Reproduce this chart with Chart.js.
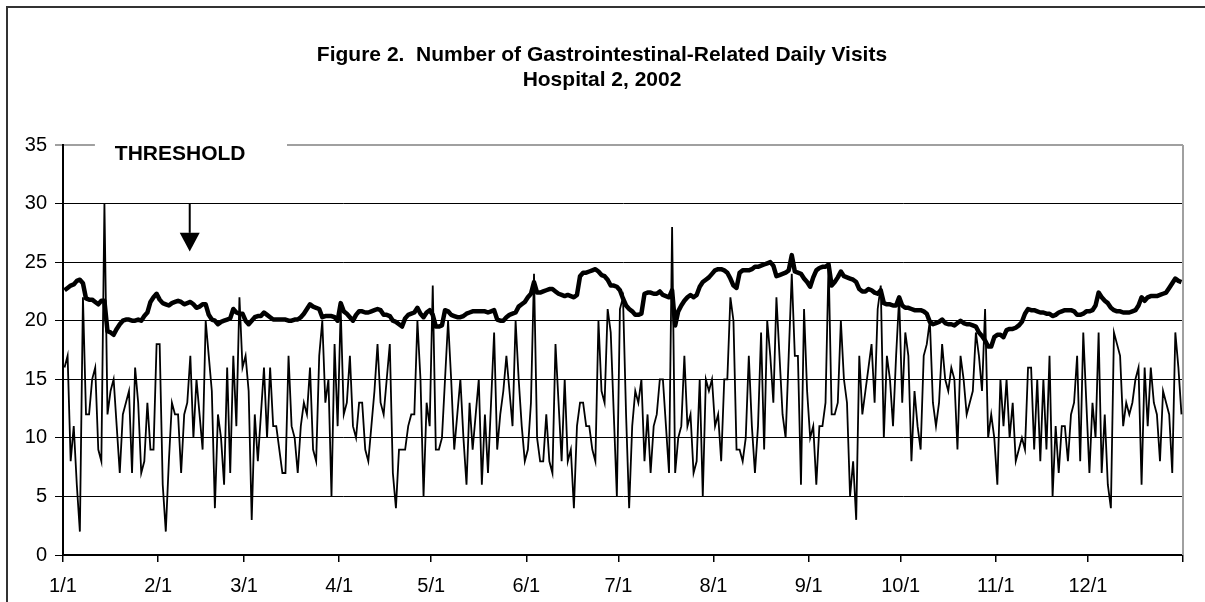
<!DOCTYPE html>
<html>
<head>
<meta charset="utf-8">
<script src="https://cdn.jsdelivr.net/npm/chart.js@4.4.1/dist/chart.umd.min.js"></script>
<style>
  html, body { margin: 0; padding: 0; background: #fff; }
  canvas { display: block; }
</style>
</head>
<body>
<canvas id="myChart" width="1205" height="602"></canvas>
<script>
// etiquetas del eje x (primer dia de cada mes) y su posicion en dias
const monthLabels = ['1/1', '2/1', '3/1', '4/1', '5/1', '6/1', '7/1', '8/1', '9/1', '10/1', '11/1', '12/1'];
const monthStarts = [0, 31, 59, 90, 120, 151, 181, 212, 243, 273, 304, 334];
const yTicks = [0, 5, 10, 15, 20, 25, 30, 35];

// visitas diarias, 1/1 a 12/31
const dailyVisits = [
  16, 17, 8, 11, 6, 2, 22, 12, 12, 15, 16, 9, 8, 30, 12, 14, 15, 11, 7, 12, 13, 14, 7, 16, 13, 7, 8, 13, 9, 9, 18,
  18, 6, 2, 8, 13, 12, 12, 7, 12, 13, 17, 10, 15, 12, 9, 20, 17, 14, 4, 12, 10, 6, 16, 7, 17, 11, 22, 16,
  17, 14, 3, 12, 8, 12, 16, 10, 16, 11, 11, 9, 7, 7, 17, 11, 10, 7, 11, 13, 12, 16, 9, 8, 17, 20, 13, 15, 5, 18, 11,
  21, 12, 13, 17, 11, 10, 13, 13, 9, 8, 11, 14, 18, 13, 12, 15, 18, 7, 4, 9, 9, 9, 11, 12, 12, 20, 15, 5, 13, 11,
  23, 9, 9, 10, 15, 20, 15, 9, 12, 15, 10, 6, 13, 9, 12, 15, 6, 12, 7, 13, 19, 9, 12, 14, 17, 14, 11, 20, 15, 11, 8,
  9, 13, 24, 10, 8, 8, 12, 8, 7, 18, 13, 8, 15, 8, 9, 4, 11, 13, 13, 11, 11, 9, 8, 20, 14, 13, 21, 19, 12, 5,
  21, 22, 12, 4, 11, 14, 13, 15, 8, 12, 7, 11, 12, 15, 15, 11, 7, 28, 7, 10, 11, 17, 11, 12, 7, 8, 15, 5, 15, 14, 15,
  11, 12, 8, 15, 15, 22, 20, 9, 9, 8, 10, 17, 11, 7, 11, 19, 9, 20, 17, 13, 22, 17, 12, 10, 17, 24, 17, 17, 6, 21, 14,
  10, 11, 6, 11, 11, 13, 25, 12, 12, 13, 20, 15, 13, 5, 8, 3, 17, 12, 14, 16, 18, 13, 21, 23, 10, 17, 15, 11, 17, 22,
  13, 19, 17, 8, 14, 11, 9, 17, 18, 20, 13, 11, 13, 18, 15, 14, 16, 15, 9, 17, 15, 12, 13, 14, 19, 17, 14, 21, 10, 12,
  10, 6, 15, 11, 15, 10, 13, 8, 9, 10, 9, 16, 16, 9, 15, 8, 15, 9, 17, 5, 11, 7, 11, 11, 8, 12, 13, 17, 8, 19, 13,
  7, 13, 10, 19, 7, 12, 6, 4, 19, 18, 17, 11, 13, 12, 13, 15, 16, 6, 16, 11, 16, 13, 12, 8, 14, 13, 12, 7, 19, 16, 12
];

// umbral (threshold)
const threshold = [
  22.6, 22.8, 23, 23.1, 23.4, 23.5, 23.2, 21.9, 21.8, 21.8, 21.6, 21.4, 21.7, 21.7, 19.1, 19, 18.8, 19.3, 19.7, 20, 20.1, 20.1, 20, 20, 20.1, 20, 20.4, 20.7, 21.6, 22, 22.3, 21.8, 21.5, 21.4, 21.3, 21.5,
  21.6, 21.7, 21.6, 21.4, 21.5, 21.6, 21.4, 21.1, 21.2, 21.4, 21.4, 20.5, 20.1, 20, 19.7, 19.9, 20, 20.1, 20.2, 21, 20.7, 20.6, 20.6, 20, 19.7, 20, 20.3, 20.4, 20.4, 20.7, 20.5, 20.3, 20.1, 20.1, 20.1, 20.1, 20.1, 20,
  20, 20.1, 20.1, 20.3, 20.6, 21, 21.4, 21.2, 21.1, 21, 20.3, 20.4, 20.4, 20.4, 20.3, 20, 21.5, 20.8, 20.6, 20.3, 20, 20.5, 20.8, 20.8, 20.7, 20.7, 20.8, 20.9, 21, 20.9, 20.5, 20.5, 20.4, 20, 19.9, 19.7, 19.5,
  20.2, 20.5, 20.6, 20.7, 21.1, 20.6, 20.3, 20.7, 20.9, 20.5, 19.5, 19.5, 19.6, 20.9, 20.8, 20.5, 20.4, 20.3, 20.3, 20.4, 20.6, 20.7, 20.8, 20.8, 20.8, 20.8, 20.8, 20.7, 20.8, 20.9, 20.1, 20, 20, 20.3, 20.5, 20.6, 20.7, 21.2,
  21.4, 21.6, 22.0, 22.3, 23.3, 22.4, 22.4, 22.5, 22.6, 22.7, 22.7, 22.5, 22.3, 22.2, 22.1, 22.2, 22.1, 22.0, 22.2, 23.8, 24.1, 24.1, 24.2, 24.3, 24.4, 24.2, 23.9, 23.8, 23.5, 23.0, 23.0, 22.9, 22.6, 21.9, 21.3, 21.0, 20.8,
  20.5, 20.5, 20.6, 22.3, 22.4, 22.4, 22.3, 22.3, 22.5, 22.2, 22.1, 22.0, 22.6, 19.6, 20.8, 21.3, 21.7, 22.0, 22.2, 22.0, 22.2, 22.9, 23.3, 23.5, 23.7, 24.0, 24.3, 24.4, 24.4, 24.3, 24.1, 23.6, 23.0, 22.8, 24.1, 24.3, 24.3, 24.3,
  24.4, 24.6, 24.6, 24.7, 24.8, 24.9, 25.0, 24.7, 23.8, 23.9, 24.0, 24.1, 24.3, 25.6, 24.2, 24.1, 24.0, 23.6, 23.3, 22.9, 23.7, 24.3, 24.5, 24.6, 24.6, 24.8, 23.0, 23.3, 23.7, 24.2, 23.8, 23.7, 23.6, 23.5, 23.3, 22.7, 22.5,
  22.5, 22.7, 22.6, 22.4, 22.3, 22.6, 21.5, 21.4, 21.4, 21.3, 21.3, 22.0, 21.3, 21.1, 21.1, 21.0, 20.9, 20.9, 20.9, 20.8, 20.6, 19.9, 19.7, 19.8, 19.9, 20.1, 19.8, 19.7, 19.7, 19.6, 19.8, 20.0, 19.8, 19.7, 19.7, 19.6, 19.5, 19.0,
  18.7, 18.3, 17.8, 17.8, 18.6, 18.8, 18.8, 18.6, 19.2, 19.3, 19.3, 19.4, 19.6, 19.9, 20.6, 21.0, 20.9, 20.9, 20.8, 20.7, 20.7, 20.6, 20.6, 20.4, 20.5, 20.7, 20.8, 20.9, 20.9, 20.9, 20.8, 20.5, 20.5, 20.6, 20.8, 20.8, 20.9,
  21.3, 22.4, 22.0, 21.7, 21.5, 21.1, 20.9, 20.8, 20.8, 20.7, 20.7, 20.7, 20.8, 20.9, 21.3, 22.0, 21.7, 22.0, 22.1, 22.1, 22.1, 22.2, 22.3, 22.4, 22.8, 23.2, 23.6, 23.4, 23.3
];

const titleLines = ['Figure 2.  Number of Gastrointestinal-Related Daily Visits', 'Hospital 2, 2002'];
const thresholdLabel = 'THRESHOLD';

const fontFamily = '"Liberation Sans", Arial, sans-serif';

// cada punto se centra en su dia
const dailyPoints = dailyVisits.map((v, i) => ({ x: i + 0.5, y: v }));
const thresholdPoints = threshold.map((v, i) => ({ x: i + 0.5, y: v }));

// titulo, recuadro de THRESHOLD, flecha y bordes
const decorations = {
  id: 'decorations',
  beforeDraw(chart) {
    const ctx = chart.ctx;
    ctx.save();
    ctx.fillStyle = '#fff';
    ctx.fillRect(0, 0, chart.width, chart.height);
    ctx.strokeStyle = '#333';
    ctx.lineWidth = 2;
    ctx.beginPath();
    ctx.moveTo(7, chart.height);
    ctx.lineTo(7, 7);
    ctx.lineTo(chart.width, 7);
    ctx.stroke();
    ctx.restore();
  },
  beforeDatasetsDraw(chart) {
    const ctx = chart.ctx;
    const a = chart.chartArea;
    ctx.save();
    ctx.strokeStyle = '#a0a0a0';
    ctx.lineWidth = 2;
    ctx.beginPath();
    ctx.moveTo(a.right, a.top);
    ctx.lineTo(a.right, a.bottom);
    ctx.stroke();
    ctx.restore();
  },
  afterDraw(chart) {
    const ctx = chart.ctx;
    const xs = chart.scales.x;
    const ys = chart.scales.y;
    ctx.save();

    // titulo
    ctx.fillStyle = '#000';
    ctx.font = 'bold 21px ' + fontFamily;
    ctx.textAlign = 'center';
    ctx.textBaseline = 'middle';
    ctx.fillText(titleLines[0], 602, 55);
    ctx.fillText(titleLines[1], 602, 80);

    // etiqueta THRESHOLD sobre la linea superior
    const top = ys.getPixelForValue(35);
    ctx.fillStyle = '#fff';
    ctx.fillRect(xs.getPixelForValue(10.4), top - 3, xs.getPixelForValue(73) - xs.getPixelForValue(10.4), 6);
    ctx.fillStyle = '#000';
    ctx.font = 'bold 21px ' + fontFamily;
    ctx.textAlign = 'left';
    ctx.fillText(thresholdLabel, xs.getPixelForValue(16.9), top + 9);

    // flecha
    const ax = xs.getPixelForValue(41.3);
    const y0 = ys.getPixelForValue(30);
    const y1 = ys.getPixelForValue(27.5);
    const y2 = ys.getPixelForValue(25.9);
    ctx.strokeStyle = '#000';
    ctx.lineWidth = 2;
    ctx.beginPath();
    ctx.moveTo(ax, y0);
    ctx.lineTo(ax, y1);
    ctx.stroke();
    ctx.beginPath();
    ctx.moveTo(ax - 10, y1);
    ctx.lineTo(ax + 10, y1);
    ctx.lineTo(ax, y2);
    ctx.closePath();
    ctx.fill();
    ctx.restore();
  }
};

const data = {
  datasets: [
    {
      label: 'Threshold',
      data: thresholdPoints,
      borderColor: '#000',
      borderWidth: 4.5,
      borderJoinStyle: 'round',
      pointRadius: 0,
      tension: 0
    },
    {
      label: 'Daily visits',
      data: dailyPoints,
      borderColor: '#000',
      borderWidth: 1.8,
      pointRadius: 0,
      tension: 0
    }
  ]
};

const config = {
  type: 'line',
  data: data,
  options: {
    responsive: false,
    animation: false,
    events: [],
    layout: {
      padding: { top: 145, right: 22, bottom: 0, left: 0 }
    },
    plugins: {
      legend: { display: false },
      tooltip: { enabled: false }
    },
    scales: {
      x: {
        type: 'linear',
        min: 0,
        max: 365,
        afterBuildTicks: (scale) => {
          scale.ticks = monthStarts.concat([365]).map(v => ({ value: v }));
        },
        afterFit: (scale) => { scale.height = 47; },
        ticks: {
          autoSkip: false,
          maxRotation: 0,
          padding: 12,
          color: '#000',
          font: { family: fontFamily, size: 20 },
          callback: (v) => {
            const i = monthStarts.indexOf(v);
            return i >= 0 ? monthLabels[i] : '';
          }
        },
        grid: { drawOnChartArea: false, drawTicks: true, tickLength: 7, color: '#000', lineWidth: 1.5 },
        border: { color: '#000', width: 2 }
      },
      y: {
        min: 0,
        max: 35,
        afterBuildTicks: (scale) => {
          scale.ticks = yTicks.map(v => ({ value: v }));
        },
        afterFit: (scale) => { scale.width = 63; },
        ticks: {
          padding: 8,
          color: '#000',
          font: { family: fontFamily, size: 20 }
        },
        grid: {
          color: (c) => (c.tick && c.tick.value === 35 ? '#a0a0a0' : '#000'),
          lineWidth: (c) => (c.tick && c.tick.value === 35 ? 2 : 1),
          tickLength: 8
        },
        border: { color: '#000', width: 2 }
      }
    }
  },
  plugins: [decorations]
};

const myChart = new Chart(
  document.getElementById('myChart'),
  config
);
</script>
</body>
</html>
